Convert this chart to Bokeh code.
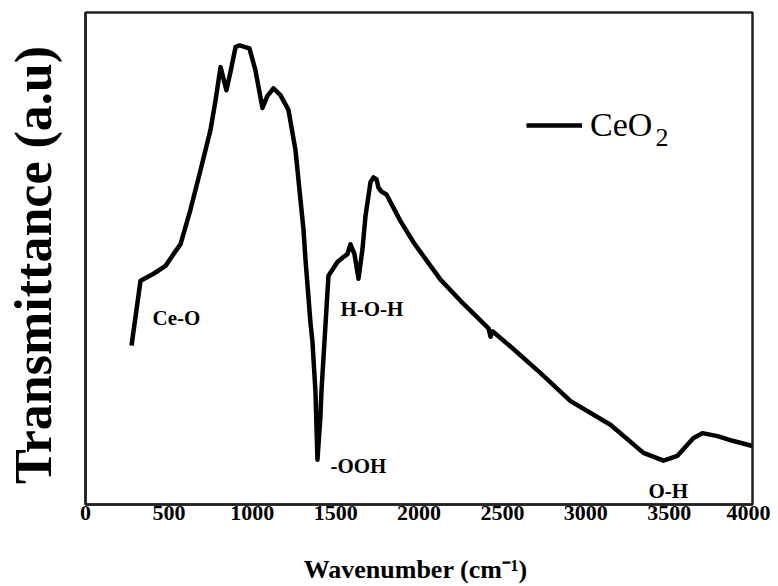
from bokeh.plotting import figure
from bokeh.models import Range1d, FixedTicker, Legend, LegendItem, Label, ColumnDataSource
from bokeh.embed import file_html
from bokeh.resources import INLINE

# FTIR spectrum of CeO2
wavenumber = [276, 330, 408, 480, 540, 570, 630, 690, 750, 780, 810, 845, 870, 900, 924,
              983, 1019, 1061, 1090, 1127, 1169, 1217, 1259, 1289, 1307, 1319, 1349, 1361,
              1379, 1391, 1409, 1415, 1439, 1457, 1511, 1547, 1571, 1589, 1613, 1637, 1661,
              1679, 1709, 1727, 1745, 1757, 1775, 1805, 1889, 1967, 2009, 2129, 2249, 2417,
              2429, 2441, 2549, 2729, 2909, 3148, 3346, 3466, 3550, 3646, 3700, 3790, 3886, 4000]
transmittance = [32.3, 45.5, 46.9, 48.5, 51.5, 52.9, 60.0, 68.0, 76.2, 82.2, 88.9, 84.2, 88.0, 93.0, 93.3,
                 92.7, 88.3, 80.6, 83.0, 84.6, 83.2, 80.2, 72.1, 62.0, 56.0, 49.9, 37.0, 33.1,
                 23.0, 9.1, 18.0, 23.0, 36.4, 46.5, 49.3, 50.3, 50.9, 52.9, 50.9, 45.9, 51.9,
                 58.6, 65.5, 66.5, 66.1, 64.4, 63.6, 63.0, 57.6, 53.3, 51.3, 45.7, 41.4, 35.8,
                 34.1, 35.2, 32.1, 26.7, 21.0, 16.2, 10.5, 8.9, 9.9, 13.5, 14.5, 13.9, 12.9, 11.9]
x_ticks = [0, 500, 1000, 1500, 2000, 2500, 3000, 3500, 4000]
series_name = "CeO"
series_sub = "2"

band_labels = ["Ce-O", "H-O-H", "-OOH", "O-H"]
band_x = [402, 1529, 1469, 3376]
band_y = [38.0, 39.8, 7.9, 2.8]

FONT = "Liberation Serif"

p = figure(width=770, height=586, output_backend="svg", toolbar_location=None,
           x_range=Range1d(0, 4000), y_range=Range1d(0, 100),
           min_border_left=85, min_border_right=18, min_border_top=12, min_border_bottom=79)

src = ColumnDataSource(dict(x=wavenumber, y=transmittance))
r = p.line("x", "y", source=src, line_color="black", line_width=4.5, line_join="round")

p.xgrid.visible = False
p.ygrid.visible = False
p.outline_line_color = "#222222"
p.outline_line_width = 2.5

xa = p.xaxis[0]
xa.ticker = FixedTicker(ticks=x_ticks)
xa.major_tick_out = 0
xa.major_tick_in = 0
xa.minor_tick_out = 0
xa.minor_tick_in = 0
xa.major_label_standoff = 1
xa.major_label_text_font = FONT
xa.major_label_text_font_style = "bold"
xa.major_label_text_font_size = "22px"
xa.major_label_text_color = "black"
xa.axis_line_color = "#222222"
xa.axis_line_width = 2.5
xa.axis_label = "Wavenumber  (cm\u207b\u00b9)"
xa.axis_label_text_font = FONT
xa.axis_label_text_font_style = "bold"
xa.axis_label_text_font_size = "26px"
xa.axis_label_text_color = "black"
xa.axis_label_standoff = 32

ya = p.yaxis[0]
ya.ticker = FixedTicker(ticks=[])
ya.major_tick_out = 0
ya.major_tick_in = 0
ya.minor_tick_out = 0
ya.minor_tick_in = 0
ya.major_label_standoff = 0
ya.axis_line_color = "#222222"
ya.axis_line_width = 2.5
ya.axis_label = "Transmittance (a.u)\u00a0"
ya.axis_label_text_font = FONT
ya.axis_label_text_font_style = "bold"
ya.axis_label_text_font_size = "52px"
ya.axis_label_text_color = "black"
ya.axis_label_standoff = 24

legend = Legend(items=[LegendItem(label=series_name, renderers=[r])],
                location=(441, 360), border_line_color=None, background_fill_alpha=0,
                padding=0, margin=0, glyph_width=56, glyph_height=36, label_standoff=8,
                label_text_font=FONT, label_text_font_size="34px", label_text_color="black")
p.add_layout(legend)
p.add_layout(Label(x=3418, y=74.5, text=series_sub, text_font=FONT, text_font_size="26px",
                   text_color="black", text_align="left", text_baseline="alphabetic"))

for t, bx, by in zip(band_labels, band_x, band_y):
    p.add_layout(Label(x=bx, y=by, text=t, text_font=FONT, text_font_style="bold",
                       text_font_size="21px", text_color="black",
                       text_align="left", text_baseline="alphabetic"))

open("out.html", "w").write(file_html(p, INLINE))
